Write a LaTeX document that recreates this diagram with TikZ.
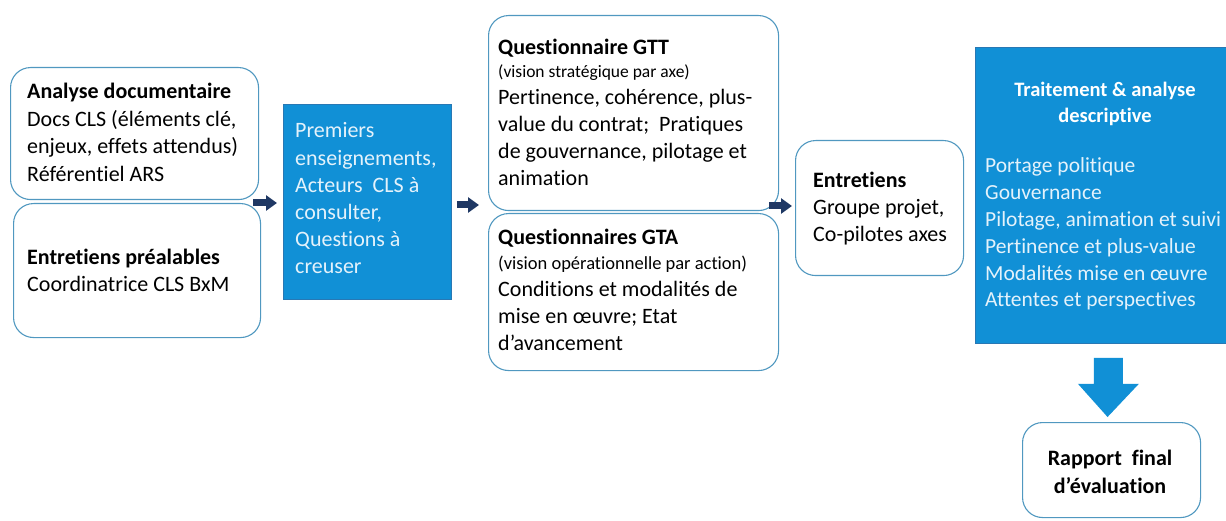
\documentclass[tikz,border=0pt]{standalone}
\usepackage{fontspec}
\setmainfont{Carlito}[Ligatures={NoCommon}]
\usetikzlibrary{calc,arrows.meta}
\definecolor{bluebox}{RGB}{17,144,214}
\definecolor{blueedge}{RGB}{40,120,180}
\definecolor{bordc}{RGB}{80,152,192}
\definecolor{navyarr}{RGB}{31,56,100}
\definecolor{lighttxt}{RGB}{228,242,251}
\tikzset{
  rbox/.style={draw=bordc, line width=1.1pt, rounded corners=20pt, fill=white, inner sep=0pt, anchor=north west},
  bbox/.style={draw=blueedge, line width=0.8pt, fill=bluebox, inner sep=0pt, anchor=north west},
  txt/.style={inner sep=0pt, anchor=base west, text=black},
  ctxt/.style={inner sep=0pt, anchor=base, text=black},
  smallarr/.style={draw=navyarr, line width=7pt, -{Triangle[length=11pt,width=15pt]}},
}
\begin{document}
\begin{tikzpicture}[x=1pt,y=-1pt]
\useasboundingbox (0,0) rectangle (1226,521);
% boxes
\node[rbox, minimum width=248pt, minimum height=132pt] (doc) at (10,67) {};
\node[rbox, minimum width=247pt, minimum height=134pt] (pre) at (13,203) {};
\node[bbox, minimum width=168pt, minimum height=195pt] (prem) at (283,104) {};
\node[rbox, minimum width=290pt, minimum height=195pt] (gtt) at (488,15) {};
\node[rbox, minimum width=290pt, minimum height=157pt] (gta) at (488,213) {};
\node[rbox, minimum width=168pt, minimum height=135pt] (ent) at (795,140) {};
\node[bbox, minimum width=252pt, minimum height=296pt] (trait) at (975,47) {};
\node[rbox, minimum width=178pt, minimum height=95pt] (rap) at (1022,422) {};
% texts
\node[txt] (doct) at (27,99) {\parbox[t]{228pt}{\raggedright\fontsize{22pt}{27.5pt}\selectfont\textbf{Analyse documentaire}\\Docs CLS (éléments clé,\\enjeux, effets attendus)\\Référentiel ARS\par}};
\node[txt] (pret) at (27,265) {\parbox[t]{228pt}{\raggedright\fontsize{22pt}{27pt}\selectfont\textbf{Entretiens préalables}\\Coordinatrice CLS BxM\par}};
\node[txt, text=lighttxt] (premt) at (295,138) {\parbox[t]{152pt}{\raggedright\fontsize{22pt}{27.2pt}\selectfont Premiers\\enseignements,\\Acteurs~~CLS à\\consulter,\\Questions à\\creuser\par}};
\node[txt] (gttt) at (498,55) {\parbox[t]{275pt}{\raggedright\fontsize{22pt}{27pt}\selectfont\textbf{Questionnaire GTT}\\[-4pt]{\fontsize{17.5pt}{20pt}\selectfont(vision stratégique par axe)}\\Pertinence, cohérence, plus-\\value du contrat;~ Pratiques\\de gouvernance, pilotage et\\animation\par}};
\node[txt] (gtat) at (498,245) {\parbox[t]{275pt}{\raggedright\fontsize{22pt}{27pt}\selectfont\textbf{Questionnaires GTA}\\[-2pt]{\fontsize{18.5pt}{20pt}\selectfont(vision opérationnelle par action)}\\Conditions et modalités de\\mise en œuvre; Etat\\d’avancement\par}};
\node[txt] (entt) at (813,188) {\parbox[t]{148pt}{\raggedright\fontsize{22pt}{27pt}\selectfont\textbf{Entretiens}\\Groupe projet,\\Co-pilotes axes\par}};
\node[ctxt, text=white] (traitt) at (1105,97) {\parbox[t]{240pt}{\centering\fontsize{20.5pt}{26pt}\selectfont\textbf{Traitement \& analyse}\\\textbf{descriptive}\par}};
\node[txt, text=lighttxt] (traiti) at (985,173) {\parbox[t]{238pt}{\raggedright\fontsize{21.5pt}{26.8pt}\selectfont Portage politique\\Gouvernance\\Pilotage, animation et suivi\\Pertinence et plus-value\\Modalités mise en œuvre\\Attentes et perspectives\par}};
\node[ctxt] (rapt) at (1110,465) {\parbox[t]{170pt}{\centering\fontsize{22pt}{28pt}\selectfont\textbf{Rapport~~final}\\\textbf{d’évaluation}\par}};
% small arrows
\coordinate (a1) at (253,203);
\draw[smallarr] (a1) -- ($(a1 -| prem.west)+(-6,0)$);
\coordinate (a2) at ($(prem.east)+(5,0)$);
\draw[smallarr] (a2 |- 0,205) -- ($(0,205 -| gtt.west)+(-9,0)$);
\coordinate (a3) at (769,206);
\draw[smallarr] (a3) -- ($(a3 -| ent.west)+(-3,0)$);
% big down arrow
\coordinate (dtop) at ($(trait.south)+(7,14)$);
\coordinate (dtip) at ($(rap.north)+(-4,-5)$);
\fill[bluebox] ($(dtop)+(-14.5,0)$) -- ($(dtop)+(14.5,0)$) -- ($(dtop)+(14.5,26)$) -- ($(dtop)+(30.5,26)$) -- (dtip) -- ($(dtop)+(-30.5,26)$) -- ($(dtop)+(-14.5,26)$) -- cycle;
\end{tikzpicture}
\end{document}
